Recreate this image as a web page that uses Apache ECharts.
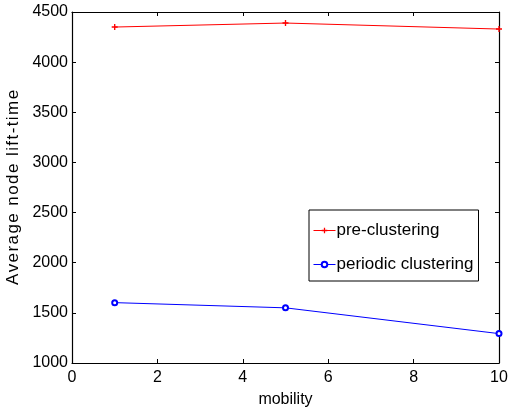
<!DOCTYPE html>
<html>
<head>
<meta charset="utf-8">
<script src="https://cdn.jsdelivr.net/npm/echarts@6/dist/echarts.min.js"></script>
<style>
  html, body { margin: 0; padding: 0; background: #fff; }
  #chart { width: 514px; height: 412px; }
</style>
</head>
<body>
<div id="chart"></div>
<script>
// Mobility levels and average node lifetime for both clustering schemes
const mobility = [1, 5, 10];
const preClustering = [4350, 4390, 4330];
const periodicClustering = [1602, 1550, 1293];
const xTicks = [0, 2, 4, 6, 8, 10];
const yTicks = [1000, 1500, 2000, 2500, 3000, 3500, 4000, 4500];

const FONT = '"Liberation Sans", Arial, sans-serif';
const HAIR = '\u200A';
// Slightly spaced-out y-axis title
const yTitle = 'Average node lift-time'.split('').join(HAIR);

const chart = echarts.init(document.getElementById('chart'), null, { renderer: 'canvas' });

const plusPath = 'path://M-0.9,-4H0.9V-0.9H4V0.9H0.9V4H-0.9V0.9H-4V-0.9H-0.9Z';

const axisCommon = {
  type: 'value',
  axisLine: { show: true, onZero: false, lineStyle: { color: '#000', width: 1.2 } },
  axisTick: { show: true, inside: true, length: 4, lineStyle: { color: '#000' } },
  splitLine: { show: false }
};

chart.setOption({
  animation: false,
  backgroundColor: '#fff',
  grid: { left: 72, top: 12, width: 427, height: 351, containLabel: false, outerBoundsMode: 'none' },
  xAxis: [
    Object.assign({}, axisCommon, {
      position: 'bottom',
      min: xTicks[0], max: xTicks[xTicks.length - 1], interval: 2,
      name: 'mobility', nameLocation: 'middle', nameGap: 29,
      nameTextStyle: { fontFamily: FONT, fontSize: 16, color: '#000' },
      axisLabel: { fontFamily: FONT, fontSize: 16, color: '#000', margin: 7 }
    }),
    Object.assign({}, axisCommon, {
      position: 'top',
      min: xTicks[0], max: xTicks[xTicks.length - 1], interval: 2,
      axisLabel: { show: false }
    })
  ],
  yAxis: [
    Object.assign({}, axisCommon, {
      position: 'left',
      min: yTicks[0], max: yTicks[yTicks.length - 1], interval: 500,
      name: yTitle, nameLocation: 'middle', nameGap: 50,
      nameTextStyle: { fontFamily: FONT, fontSize: 17, color: '#000' },
      axisLabel: { fontFamily: FONT, fontSize: 16, color: '#000', margin: 4, formatter: v => String(v) }
    }),
    Object.assign({}, axisCommon, {
      position: 'right',
      min: yTicks[0], max: yTicks[yTicks.length - 1], interval: 500,
      axisLabel: { show: false }
    })
  ],
  legend: {
    orient: 'vertical',
    left: 309, top: 210,
    padding: [12, 5, 8, 4],
    itemGap: 17,
    itemWidth: 22, itemHeight: 7,
    borderColor: '#000', borderWidth: 1,
    backgroundColor: '#fff',
    lineStyle: { width: 1 },
    textStyle: { fontFamily: FONT, fontSize: 17, color: '#000', padding: [0, 0, 0, -4] },
    data: ['pre-clustering', 'periodic clustering']
  },
  series: [
    {
      name: 'pre-clustering', type: 'line',
      data: mobility.map((m, i) => [m, preClustering[i]]),
      symbol: plusPath, symbolSize: 6,
      lineStyle: { color: '#ff0000', width: 1 },
      itemStyle: { color: '#ff0000' }
    },
    {
      name: 'periodic clustering', type: 'line',
      data: mobility.map((m, i) => [m, periodicClustering[i]]),
      symbol: 'emptyCircle', symbolSize: 5,
      lineStyle: { color: '#0000ff', width: 1 },
      itemStyle: { color: '#0000ff', borderWidth: 0.8 }
    }
  ]
});
</script>
</body>
</html>
